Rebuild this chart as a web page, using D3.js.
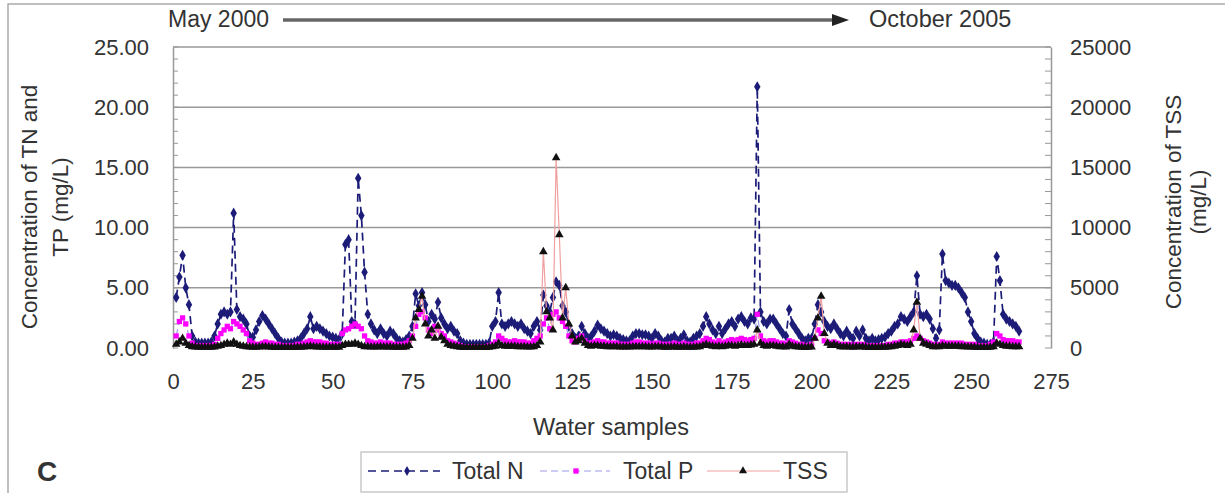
<!DOCTYPE html>
<html><head><meta charset="utf-8">
<script src="https://cdn.jsdelivr.net/npm/d3@7"></script>
<style>
html,body{margin:0;padding:0;background:#fff;}
svg text{font-family:"Liberation Sans",Arial,sans-serif;fill:#333;}
</style></head>
<body>
<svg id="chart" width="1225" height="493"></svg>
<script>
// ---- data ----
const totalN = [
4.2,5.9,7.7,5.0,3.6,1.0,0.5,0.4,0.4,0.4,
0.4,0.5,1.0,2.0,2.8,3.0,2.8,3.0,11.2,3.2,
2.6,2.4,2.0,1.0,0.9,1.5,2.2,2.7,2.4,2.0,
1.6,1.2,0.8,0.5,0.4,0.4,0.4,0.5,0.6,0.8,
1.2,1.6,2.6,1.6,1.8,1.6,1.4,1.2,1.0,0.9,
0.8,0.7,1.2,8.6,9.0,2.2,2.0,14.1,11.0,6.3,
2.8,2.0,1.5,1.2,1.6,1.2,1.0,1.4,1.2,0.8,
0.6,0.5,0.7,1.0,1.8,4.5,3.5,4.6,3.6,2.2,
2.8,2.4,3.8,2.5,2.0,1.6,1.8,1.4,1.2,0.6,
0.4,0.3,0.3,0.3,0.3,0.3,0.3,0.3,0.4,1.8,
2.2,4.6,2.0,1.8,2.0,2.2,2.0,1.8,2.0,1.6,
1.4,1.2,1.8,2.2,1.5,4.4,3.5,3.0,4.2,5.5,
5.2,3.5,3.0,1.8,1.2,0.8,1.0,1.8,1.2,0.8,
1.0,1.4,1.9,1.6,1.4,1.2,1.0,1.1,1.0,0.8,
0.7,0.6,0.6,1.0,1.2,1.2,1.1,1.1,1.0,0.8,
1.2,1.0,0.6,0.5,0.8,0.8,1.0,0.6,0.8,1.1,
0.6,0.5,0.8,1.0,1.2,1.8,2.6,2.0,1.5,1.2,
1.8,1.2,1.6,2.0,2.2,1.8,2.4,2.6,2.2,2.0,
2.5,2.4,21.7,3.0,2.2,2.0,2.4,2.4,2.0,1.6,
1.2,1.0,3.2,2.0,1.6,1.2,0.8,0.6,0.8,0.8,
2.0,3.6,3.0,2.2,1.8,1.6,2.0,1.6,1.2,1.0,
1.4,1.0,0.8,1.4,1.0,1.5,0.8,0.6,0.8,0.6,
0.7,0.8,0.9,1.2,1.4,1.8,2.0,2.6,2.4,2.2,
2.6,3.0,6.0,2.8,2.6,2.8,2.4,1.6,0.8,1.5,
7.8,5.6,5.4,5.2,5.2,5.0,4.6,4.2,3.0,2.2,
1.2,0.8,0.5,0.4,0.3,0.3,0.5,7.6,5.6,2.8,
2.4,2.2,2.0,1.8,1.4];
const totalP = [
1.0,2.2,2.5,2.0,1.0,0.4,0.2,0.2,0.2,0.2,
0.2,0.2,0.3,0.8,1.2,1.5,1.8,1.6,2.2,2.0,
1.8,1.5,1.2,0.6,0.4,0.3,0.3,0.4,0.5,0.4,
0.4,0.3,0.3,0.2,0.2,0.2,0.2,0.2,0.3,0.3,
0.4,0.5,0.6,0.5,0.5,0.5,0.4,0.4,0.3,0.3,
0.3,0.3,1.2,1.5,1.6,1.8,2.0,1.8,1.6,1.0,
0.6,0.5,0.4,0.4,0.5,0.4,0.4,0.4,0.3,0.3,
0.3,0.3,0.4,0.6,1.0,1.8,2.8,3.0,2.5,1.5,
1.2,1.8,1.5,1.2,1.0,0.6,0.5,0.4,0.3,0.2,
0.1,0.1,0.1,0.1,0.1,0.1,0.1,0.1,0.2,0.3,
0.5,1.0,0.8,0.6,0.5,0.5,0.6,0.5,0.5,0.5,
0.4,0.4,0.6,0.8,1.0,2.0,2.5,1.6,2.8,3.0,
2.5,2.2,1.8,1.0,0.6,0.5,0.8,1.0,0.6,0.4,
0.4,0.5,0.6,0.5,0.5,0.4,0.4,0.4,0.4,0.3,
0.3,0.3,0.3,0.4,0.5,0.5,0.4,0.4,0.4,0.3,
0.4,0.4,0.3,0.3,0.3,0.3,0.4,0.3,0.3,0.4,
0.3,0.3,0.3,0.4,0.4,0.6,0.8,0.7,0.5,0.4,
0.6,0.4,0.5,0.6,0.7,0.6,0.7,0.8,0.7,0.6,
0.7,0.8,2.8,1.0,0.6,0.5,0.6,0.6,0.5,0.4,
0.4,0.3,0.6,0.5,0.4,0.3,0.3,0.2,0.2,0.3,
0.8,1.5,1.2,0.6,0.5,0.4,0.5,0.4,0.3,0.3,
0.3,0.3,0.2,0.3,0.3,0.3,0.2,0.2,0.2,0.2,
0.2,0.2,0.2,0.3,0.3,0.4,0.4,0.5,0.5,0.5,
0.6,0.8,1.0,0.8,0.6,0.5,0.4,0.3,0.2,0.3,
0.5,0.4,0.4,0.4,0.4,0.4,0.4,0.3,0.3,0.3,
0.3,0.2,0.2,0.2,0.2,0.3,0.5,1.2,1.0,0.7,
0.6,0.6,0.6,0.5,0.5];
const tss = [
300,500,800,400,200,100,80,60,60,60,
60,60,80,150,200,300,400,300,500,300,
200,150,100,80,60,60,80,100,100,80,
60,50,50,50,50,50,50,50,60,60,
80,100,150,100,80,80,60,60,60,60,
60,60,200,300,300,300,400,300,200,100,
100,80,80,80,100,80,80,80,60,60,
60,60,80,200,800,2500,3200,4300,2000,1000,
1500,800,1800,900,600,300,200,150,100,60,
50,50,50,50,50,50,50,50,60,100,
150,400,200,150,150,150,150,100,100,100,
80,80,100,200,500,8000,3000,2500,1500,15800,
9400,2500,5000,2000,1000,500,600,800,400,200,
150,200,200,150,150,100,100,100,100,80,
80,80,80,100,100,100,100,100,80,80,
100,100,80,60,60,80,80,60,60,80,
60,60,60,80,100,200,300,200,150,100,
150,100,150,200,200,150,200,250,200,200,
250,300,1500,400,200,150,200,200,150,100,
100,80,300,150,100,80,60,50,60,80,
800,2500,4300,1200,400,200,300,200,100,80,
100,80,60,100,80,100,60,50,50,50,
50,60,60,80,100,150,200,300,250,200,
300,1500,3800,800,400,300,200,100,100,100,
200,150,150,150,150,150,100,100,80,80,
60,50,50,50,50,60,100,400,300,200,
150,150,100,100,100];
const xTicks = [0,25,50,75,100,125,150,175,200,225,250,275];
const yLeftTicks = [0,5,10,15,20,25];
const yRightTicks = [0,5000,10000,15000,20000,25000];
const seriesNames = ["Total N","Total P","TSS"];

// ---- layout ----
const svg = d3.select("#chart");
const L = 173, R = 1051, T = 47, B = 348;
const x = d3.scaleLinear().domain([0,275]).range([L,R]);
const yL = d3.scaleLinear().domain([0,25]).range([B,T]);
const yR = d3.scaleLinear().domain([0,25000]).range([B,T]);
const FS = 22;

// outer frame
svg.append("path").attr("d","M8,500 L8,4 L1240,4").attr("fill","none").attr("stroke","#aaa").attr("stroke-width",1.5);

// gridlines
svg.append("g").selectAll("line").data(yLeftTicks.filter(d=>d>0)).join("line")
  .attr("x1",L).attr("x2",R).attr("y1",d=>yL(d)).attr("y2",d=>yL(d))
  .attr("stroke","#999").attr("stroke-width",1.5);

// left axis
const gl = svg.append("g").attr("transform",`translate(${L},0)`)
  .call(d3.axisLeft(yL).tickValues(yLeftTicks).tickFormat(d3.format(".2f")).tickSize(0).tickPadding(24));
gl.select(".domain").attr("stroke","#999").attr("stroke-width",1.5);
gl.selectAll("text").attr("font-size",FS).attr("fill","#333").style("font-family","Liberation Sans, Arial");
svg.append("g").selectAll("line").data(d3.range(0,26,1)).join("line")
  .attr("x1",L).attr("x2",L+5).attr("y1",d=>yL(d)).attr("y2",d=>yL(d)).attr("stroke","#999");

// right axis
const gr = svg.append("g").attr("transform",`translate(${R},0)`)
  .call(d3.axisRight(yR).tickValues(yRightTicks).tickFormat(d3.format("d")).tickSize(0).tickPadding(19));
gr.select(".domain").attr("stroke","#999").attr("stroke-width",1.5);
gr.selectAll("text").attr("font-size",FS).attr("fill","#333").style("font-family","Liberation Sans, Arial");
svg.append("g").selectAll("line").data(d3.range(0,25001,1000)).join("line")
  .attr("x1",R-6).attr("x2",R).attr("y1",d=>yR(d)).attr("y2",d=>yR(d)).attr("stroke","#999");

// x axis labels
const gx = svg.append("g").attr("transform",`translate(0,${B})`)
  .call(d3.axisBottom(x).tickValues(xTicks).tickSize(0).tickPadding(25));
gx.select(".domain").remove();
gx.selectAll("text").attr("font-size",FS).attr("fill","#333").style("font-family","Liberation Sans, Arial");

// axis titles
svg.append("text").attr("x",611).attr("y",435).attr("text-anchor","middle").attr("font-size",23.5).text("Water samples");
const lt = svg.append("text").attr("transform","translate(37,207) rotate(-90)").attr("text-anchor","middle").attr("font-size",22.5);
lt.append("tspan").attr("x",0).attr("dy",0).text("Concentration of TN and");
lt.append("tspan").attr("x",0).attr("dy",31).text("TP (mg/L)");
const rt = svg.append("text").attr("transform","translate(1181,202) rotate(-90)").attr("text-anchor","middle").attr("font-size",22.5);
rt.append("tspan").attr("x",0).attr("dy",0).text("Concentration of TSS");
rt.append("tspan").attr("x",0).attr("dy",25).text("(mg/L)");

// panel letter
svg.append("text").attr("x",37).attr("y",481).attr("font-size",28).attr("font-weight","bold").attr("fill","#111").text("C");

// top annotation
svg.append("text").attr("x",168).attr("y",27).attr("font-size",23).text("May 2000");
svg.append("line").attr("x1",283).attr("x2",834).attr("y1",20).attr("y2",20).attr("stroke","#666").attr("stroke-width",3.5);
svg.append("path").attr("d","M832,14 L849,20 L832,26 Z").attr("fill","#222");
svg.append("text").attr("x",869).attr("y",27).attr("font-size",23.5).text("October 2005");

// ---- series ----
const mk = arr => arr.map((v,i)=>[i+1,v]);
const dN = mk(totalN), dP = mk(totalP), dT = mk(tss);
const lineL = d3.line().x(d=>x(d[0])).y(d=>yL(d[1]));
const lineR = d3.line().x(d=>x(d[0])).y(d=>yR(d[1]));

const colN = "#1c1c78", colPline = "#9c9ce8", colPmk = "#ff00ff", colTline = "#f0a0a0";

svg.append("path").datum(dN).attr("d",lineL).attr("fill","none").attr("stroke",colN).attr("stroke-width",1.7).attr("stroke-dasharray","8,5");
svg.append("g").selectAll("path").data(dN).join("path")
  .attr("transform",d=>`translate(${x(d[0])},${yL(d[1])})`)
  .attr("d",d3.symbol(d3.symbolDiamond,36)).attr("fill",colN);

svg.append("path").datum(dP).attr("d",lineL).attr("fill","none").attr("stroke",colPline).attr("stroke-width",1.2).attr("stroke-dasharray","7,4");
svg.append("g").selectAll("path").data(dP).join("path")
  .attr("transform",d=>`translate(${x(d[0])},${yL(d[1])})`)
  .attr("d",d3.symbol(d3.symbolSquare,28)).attr("fill",colPmk);

svg.append("path").datum(dT).attr("d",lineR).attr("fill","none").attr("stroke",colTline).attr("stroke-width",1.2);
svg.append("g").selectAll("path").data(dT).join("path")
  .attr("transform",d=>`translate(${x(d[0])},${yR(d[1])})`)
  .attr("d",d3.symbol(d3.symbolTriangle,32)).attr("fill","#111");

// ---- legend ----
const lg = svg.append("g");
lg.append("rect").attr("x",361).attr("y",452).attr("width",486).attr("height",40).attr("fill","#fff").attr("stroke","#bbb").attr("stroke-width",1.2);
const legendItems = [
  {name:seriesNames[0], x1:368, x2:440, mx:407, tx:452, stroke:colN, dash:"8,5", sym:d3.symbolDiamond, fill:colN, w:1.7},
  {name:seriesNames[1], x1:540, x2:610, mx:576, tx:623, stroke:colPline, dash:"7,4", sym:d3.symbolSquare, fill:colPmk, w:1.2},
  {name:seriesNames[2], x1:707, x2:780, mx:743, tx:783, stroke:colTline, dash:null, sym:d3.symbolTriangle, fill:"#111", w:1.2}
];
legendItems.forEach(it=>{
  lg.append("line").attr("x1",it.x1).attr("x2",it.x2).attr("y1",471).attr("y2",471)
    .attr("stroke",it.stroke).attr("stroke-width",it.w).attr("stroke-dasharray",it.dash);
  lg.append("path").attr("transform",`translate(${it.mx},471)`).attr("d",d3.symbol(it.sym,28)).attr("fill",it.fill);
  lg.append("text").attr("x",it.tx).attr("y",479).attr("font-size",23).text(it.name);
});
</script>
</body></html>
